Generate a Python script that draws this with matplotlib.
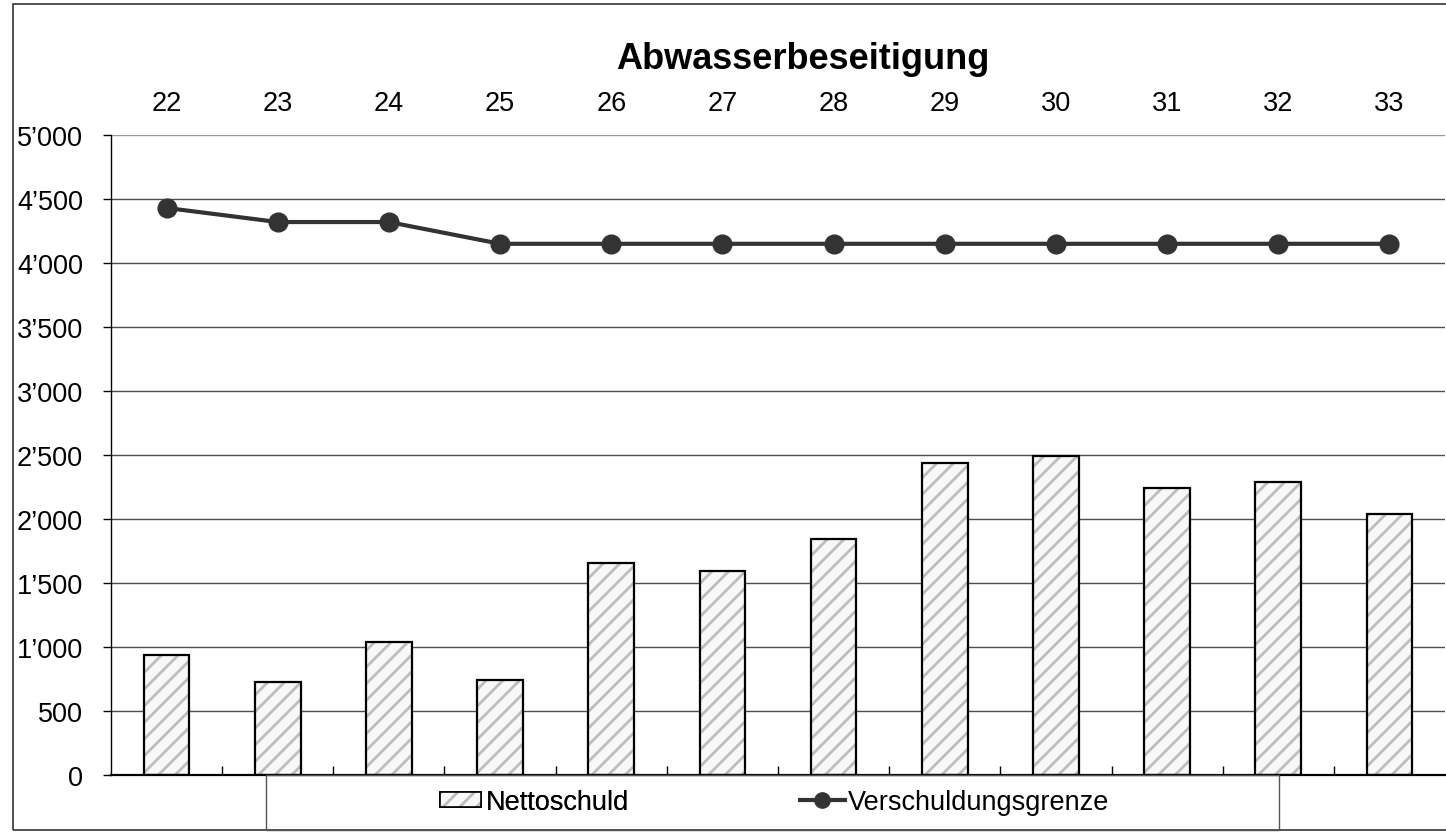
import matplotlib
matplotlib.use("Agg")
import matplotlib.pyplot as plt
from matplotlib.patches import Rectangle, Patch
from matplotlib.lines import Line2D
from matplotlib.ticker import FixedLocator, FuncFormatter
import numpy as np

# ---- data ----
categories = ["22", "23", "24", "25", "26", "27", "28", "29", "30", "31", "32", "33"]
nettoschuld = [940, 730, 1040, 740, 1660, 1590, 1840, 2440, 2490, 2240, 2290, 2040]
verschuldungsgrenze = [4430, 4320, 4320, 4150, 4150, 4150, 4150, 4150, 4150, 4150, 4150, 4150]
y_ticks = [0, 500, 1000, 1500, 2000, 2500, 3000, 3500, 4000, 4500, 5000]
title = "Abwasserbeseitigung"
label_bar = "Nettoschuld"
label_line = "Verschuldungsgrenze"

plt.rcParams['font.family'] = ['Liberation Sans', 'DejaVu Sans']
plt.rcParams['hatch.linewidth'] = 2.0

W, H = 1446, 837
fig = plt.figure(figsize=(W / 100, H / 100), dpi=100)

def fx(px):
    return px / W

def fy(py):
    return 1 - py / H

ax = fig.add_axes([fx(111), fy(776), fx(1445) - fx(111), fy(136) - fy(776)])

x = np.arange(len(categories))
bw = 0.41
# hatched fill
ax.bar(x, nettoschuld, width=bw, color='#f8f8f8', edgecolor='#bdbdbd',
       hatch='//', linewidth=0, zorder=2)
# black outline
ax.bar(x, nettoschuld, width=bw, fill=False, edgecolor='black',
       linewidth=1.6, zorder=3)

ax.plot(x, verschuldungsgrenze, color='#333333', linewidth=3.0, marker='o',
        markersize=13.5, zorder=4)

ax.set_xlim(-0.5, len(categories) - 0.5)
ax.set_ylim(0, 5000)

# grid
ax.yaxis.set_major_locator(FixedLocator(y_ticks))
ax.yaxis.set_major_formatter(FuncFormatter(lambda v, p: f"{int(v):,}".replace(",", "\u2019")))
for v in y_ticks[1:]:
    ax.axhline(v, color='#999999' if v == 5000 else '#4d4d4d', linewidth=1.0, zorder=1)

# x ticks: labels on top, minor ticks at category boundaries at bottom
ax.set_xticks(x)
ax.set_xticklabels(categories)
ax.set_xticks(np.arange(0.5, len(categories) - 0.5, 1), minor=True)
ax.tick_params(axis='x', which='major', top=True, labeltop=True, bottom=False,
               labelbottom=False, length=0, pad=13.5, labelsize=19.5)
ax.tick_params(axis='x', which='minor', bottom=True, direction='in', length=6.5,
               width=1.0, color='black')
ax.tick_params(axis='y', which='major', direction='out', length=6, width=1.0,
               pad=14, labelsize=19.5)

for s in ['top', 'right']:
    ax.spines[s].set_visible(False)
ax.spines['left'].set_linewidth(1.0)
ax.spines['bottom'].set_linewidth(1.6)
ax.spines['bottom'].set_zorder(5)

# title
fig.text(fx(803), fy(69), title, ha='center', va='baseline', fontsize=26,
         fontweight='bold')

# outer chart frame
fig.patches.append(Rectangle((fx(13), fy(831)), 1.2, fy(5) - fy(831),
                             transform=fig.transFigure, fill=False,
                             edgecolor='#333333', linewidth=1.2))
# legend frame
fig.patches.append(Rectangle((fx(266), fy(831)), fx(1279) - fx(266), fy(776) - fy(831),
                             transform=fig.transFigure, fill=False,
                             edgecolor='#555555', linewidth=1.0))

bar_handle = Patch(facecolor='#f8f8f8', edgecolor='#bdbdbd', hatch='//', linewidth=0)
bar_handle2 = Patch(fill=False, edgecolor='black', linewidth=1.2)
line_handle = Line2D([], [], color='#333333', linewidth=3.0, marker='o', markersize=11)

leg1 = fig.legend([(bar_handle, bar_handle2)], [label_bar], loc='center left',
                  bbox_to_anchor=(fx(440), fy(803)), frameon=False, fontsize=19.5,
                  borderpad=0, borderaxespad=0, handlelength=1.5, handleheight=0.5,
                  handletextpad=0.2)
fig.add_artist(leg1)
leg2 = fig.legend([line_handle], [label_line], loc='center left',
                  bbox_to_anchor=(fx(800), fy(803)), frameon=False, fontsize=19.5,
                  borderpad=0, borderaxespad=0, handlelength=1.65, handleheight=0.5,
                  handletextpad=0.1)

fig.savefig("out.png", dpi=100)
